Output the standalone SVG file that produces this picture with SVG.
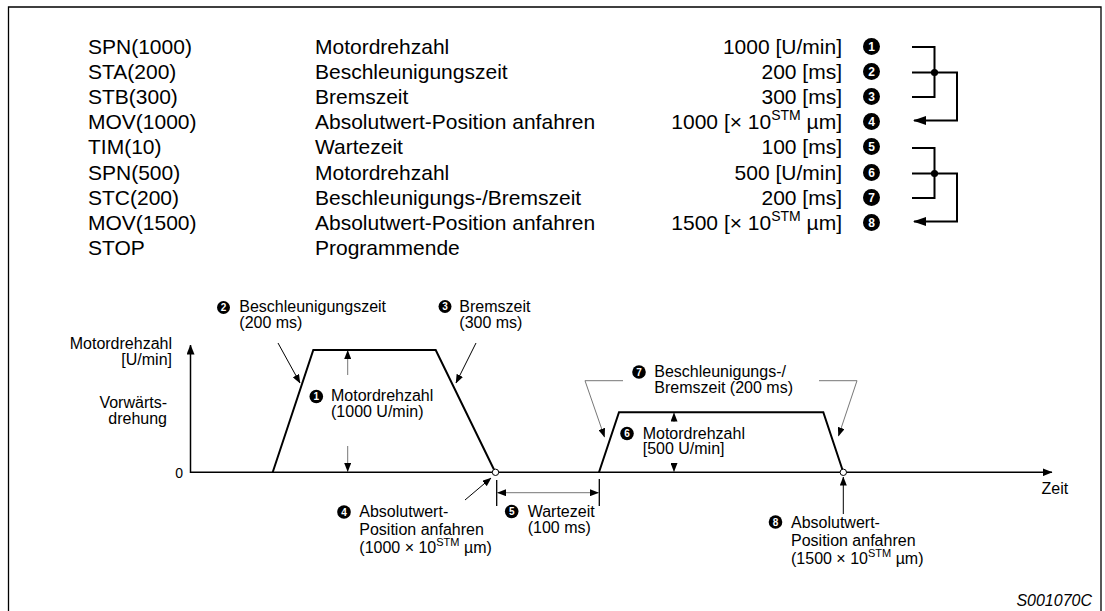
<svg xmlns="http://www.w3.org/2000/svg" width="1105" height="611" viewBox="0 0 1105 611">
  <style>
    text { font-family: "Liberation Sans", Arial, sans-serif; fill: #000; }
    .tbl { font-size: 21px; }
    .lbl { font-size: 16px; }
    .num { font-weight: bold; fill: #fff; text-anchor: middle; }
    .n1 { font-size: 12px; }
    .n2 { font-size: 10px; }
    .ln { fill: none; stroke: #000; }
    .thin { fill: none; stroke: #000; stroke-width: 1; }
    .grey { fill: none; stroke: #777; stroke-width: 1; }
    .profile { fill: none; stroke: #000; stroke-width: 2; stroke-linejoin: miter; }
  </style>
  <defs>
    <marker id="ahBig" markerUnits="userSpaceOnUse" markerWidth="13" markerHeight="9" refX="12" refY="4.5" orient="auto">
      <path d="M0,0 L13,4.5 L0,9 Z" fill="#000"/>
    </marker>
    <marker id="ah" markerUnits="userSpaceOnUse" markerWidth="9" markerHeight="7" refX="8.5" refY="3.5" orient="auto-start-reverse">
      <path d="M0,0 L9,3.5 L0,7 Z" fill="#000"/>
    </marker>
    <marker id="axis" markerUnits="userSpaceOnUse" markerWidth="10" markerHeight="8" refX="9.5" refY="4" orient="auto">
      <path d="M0,0 L10,4 L0,8 Z" fill="#000"/>
    </marker>
  </defs>

  <!-- frame -->
  <path d="M8.5,620 V7 H1101 V620" fill="none" stroke="#000" stroke-width="1.3"/>

  <!-- program listing -->
  <g id="program">
    <text class="tbl" x="88" y="54">SPN(1000)</text>
    <text class="tbl" x="88" y="79">STA(200)</text>
    <text class="tbl" x="88" y="104">STB(300)</text>
    <text class="tbl" x="88" y="129">MOV(1000)</text>
    <text class="tbl" x="88" y="154">TIM(10)</text>
    <text class="tbl" x="88" y="180">SPN(500)</text>
    <text class="tbl" x="88" y="205">STC(200)</text>
    <text class="tbl" x="88" y="230">MOV(1500)</text>
    <text class="tbl" x="88" y="255">STOP</text>

    <text class="tbl" x="315" y="54">Motordrehzahl</text>
    <text class="tbl" x="315" y="79">Beschleunigungszeit</text>
    <text class="tbl" x="315" y="104">Bremszeit</text>
    <text class="tbl" x="315" y="129">Absolutwert-Position anfahren</text>
    <text class="tbl" x="315" y="154">Wartezeit</text>
    <text class="tbl" x="315" y="180">Motordrehzahl</text>
    <text class="tbl" x="315" y="205">Beschleunigungs-/Bremszeit</text>
    <text class="tbl" x="315" y="230">Absolutwert-Position anfahren</text>
    <text class="tbl" x="315" y="255">Programmende</text>

    <g text-anchor="end">
      <text class="tbl" x="842" y="54">1000 [U/min]</text>
      <text class="tbl" x="842" y="79">200 [ms]</text>
      <text class="tbl" x="842" y="104">300 [ms]</text>
      <text class="tbl" x="842" y="129">1000 [× 10<tspan font-size="14" dy="-9">STM</tspan><tspan dy="9"> µm]</tspan></text>
      <text class="tbl" x="842" y="154">100 [ms]</text>
      <text class="tbl" x="842" y="180">500 [U/min]</text>
      <text class="tbl" x="842" y="205">200 [ms]</text>
      <text class="tbl" x="842" y="230">1500 [× 10<tspan font-size="14" dy="-9">STM</tspan><tspan dy="9"> µm]</tspan></text>
    </g>
  </g>

  <!-- step markers next to the listing -->
  <g id="step-markers">
    <circle cx="871.5" cy="46.5" r="8.5"/><text class="num n1" x="871.5" y="51">1</text>
    <circle cx="871.5" cy="71.5" r="8.5"/><text class="num n1" x="871.5" y="76">2</text>
    <circle cx="871.5" cy="96.5" r="8.5"/><text class="num n1" x="871.5" y="101">3</text>
    <circle cx="871.5" cy="121.5" r="8.5"/><text class="num n1" x="871.5" y="126">4</text>
    <circle cx="871.5" cy="146.5" r="8.5"/><text class="num n1" x="871.5" y="151">5</text>
    <circle cx="871.5" cy="172.5" r="8.5"/><text class="num n1" x="871.5" y="177">6</text>
    <circle cx="871.5" cy="197.5" r="8.5"/><text class="num n1" x="871.5" y="202">7</text>
    <circle cx="871.5" cy="222.5" r="8.5"/><text class="num n1" x="871.5" y="227">8</text>
  </g>

  <!-- brackets: settings feed into the following MOV -->
  <g id="connectors">
    <g class="ln" stroke-width="2">
      <path d="M912,47 H934.5 V97 H912"/>
      <path d="M912,72.5 H957 V120.5 H914" marker-end="url(#ahBig)"/>
      <path d="M912,148 H934.5 V198 H912"/>
      <path d="M912,173.5 H957 V221.5 H914" marker-end="url(#ahBig)"/>
    </g>
    <circle cx="934.5" cy="72.5" r="3.6"/>
    <circle cx="934.5" cy="173.5" r="3.6"/>

    <!-- pointers in the speed profile -->
    <line class="thin" x1="278" y1="343" x2="300" y2="383" marker-end="url(#ah)"/>
    <line class="thin" x1="476" y1="343" x2="456" y2="383" marker-end="url(#ah)"/>
    <line class="thin" x1="465" y1="500" x2="491" y2="478" marker-end="url(#ah)"/>
    <line class="thin" x1="843.3" y1="514" x2="843.3" y2="477" marker-end="url(#ah)"/>
    <polyline class="grey" points="623,380.7 585,380.7 604.5,437" marker-end="url(#ah)"/>
    <polyline class="grey" points="819,380.7 857,380.7 838.5,436" marker-end="url(#ah)"/>

    <!-- speed levels -->
    <line class="grey" x1="347.7" y1="375" x2="347.7" y2="350.5" marker-end="url(#ah)"/>
    <line class="grey" x1="347.7" y1="446" x2="347.7" y2="471.5" marker-end="url(#ah)"/>
    <line class="grey" x1="674" y1="422" x2="674" y2="413" marker-end="url(#ah)"/>
    <line class="grey" x1="674" y1="463" x2="674" y2="471.5" marker-end="url(#ah)"/>

    <!-- dwell time -->
    <line class="ln" x1="496.7" y1="480" x2="496.7" y2="506" stroke-width="1.3"/>
    <line class="ln" x1="599.3" y1="479" x2="599.3" y2="506" stroke-width="1.3"/>
    <line class="grey" x1="497.5" y1="492.7" x2="598.5" y2="492.7" marker-start="url(#ah)" marker-end="url(#ah)"/>
  </g>

  <!-- axes -->
  <g id="axes">
    <line class="ln" stroke-width="1.5" x1="190.5" y1="473" x2="190.5" y2="345" marker-end="url(#axis)"/>
    <line class="ln" stroke-width="1.5" x1="190" y1="472.3" x2="1052" y2="472.3" marker-end="url(#axis)"/>
    <g class="lbl" text-anchor="end">
      <text x="172" y="348.5">Motordrehzahl</text>
      <text x="172" y="364.5">[U/min]</text>
      <text x="167" y="408">Vorwärts-</text>
      <text x="167" y="423.5">drehung</text>
      <text x="183" y="477.5" font-size="14">0</text>
    </g>
    <text class="lbl" x="1041.5" y="493.5">Zeit</text>
  </g>

  <!-- speed profile -->
  <g id="profile">
    <polyline class="profile" points="272.7,472.3 313.3,350 435.7,350 495.3,472.3"/>
    <polyline class="profile" points="599,472.3 619,412.3 823.3,412.3 843.3,472.3"/>
    <circle cx="495.5" cy="472.3" r="3.2" fill="#fff" stroke="#000" stroke-width="1"/>
    <circle cx="843.3" cy="472.3" r="3.2" fill="#fff" stroke="#000" stroke-width="1"/>
  </g>

  <!-- callouts -->
  <g id="label-2">
    <circle cx="223.5" cy="307.5" r="6.5"/><text class="num n2" x="223.5" y="311">2</text>
    <text class="lbl" x="239.3" y="312">Beschleunigungszeit</text>
    <text class="lbl" x="239.3" y="328">(200 ms)</text>
  </g>
  <g id="label-3">
    <circle cx="445" cy="306.5" r="6.5"/><text class="num n2" x="445" y="310">3</text>
    <text class="lbl" x="459.3" y="312">Bremszeit</text>
    <text class="lbl" x="459.3" y="328">(300 ms)</text>
  </g>
  <g id="label-1">
    <circle cx="316.3" cy="396.5" r="6.8"/><text class="num n2" x="316.3" y="400">1</text>
    <text class="lbl" x="331" y="401">Motordrehzahl</text>
    <text class="lbl" x="331" y="417">(1000 U/min)</text>
  </g>
  <g id="label-4">
    <circle cx="344" cy="512" r="6.8"/><text class="num n2" x="344" y="515.5">4</text>
    <text class="lbl" x="359.3" y="517">Absolutwert-</text>
    <text class="lbl" x="359.3" y="535">Position anfahren</text>
    <text class="lbl" x="359.3" y="553">(1000 × 10<tspan font-size="11" dy="-7">STM</tspan><tspan dy="7"> µm)</tspan></text>
  </g>
  <g id="label-5">
    <circle cx="511.7" cy="511.5" r="6.8"/><text class="num n2" x="511.7" y="515">5</text>
    <text class="lbl" x="527.7" y="517">Wartezeit</text>
    <text class="lbl" x="527.7" y="533">(100 ms)</text>
  </g>
  <g id="label-6">
    <circle cx="627" cy="433.5" r="6.8"/><text class="num n2" x="627" y="437">6</text>
    <text class="lbl" x="642.7" y="438.5">Motordrehzahl</text>
    <text class="lbl" x="642.7" y="454">[500 U/min]</text>
  </g>
  <g id="label-7">
    <circle cx="639" cy="372" r="6.8"/><text class="num n2" x="639" y="375.5">7</text>
    <text class="lbl" x="654.3" y="377">Beschleunigungs-/</text>
    <text class="lbl" x="654.3" y="393">Bremszeit (200 ms)</text>
  </g>
  <g id="label-8">
    <circle cx="775.5" cy="522" r="6.8"/><text class="num n2" x="775.5" y="525.5">8</text>
    <text class="lbl" x="791" y="527.5">Absolutwert-</text>
    <text class="lbl" x="791" y="545.5">Position anfahren</text>
    <text class="lbl" x="791" y="563.5">(1500 × 10<tspan font-size="11" dy="-7">STM</tspan><tspan dy="7"> µm)</tspan></text>
  </g>

  <text x="1092" y="605.5" font-size="16" font-style="italic" text-anchor="end">S001070C</text>
</svg>
